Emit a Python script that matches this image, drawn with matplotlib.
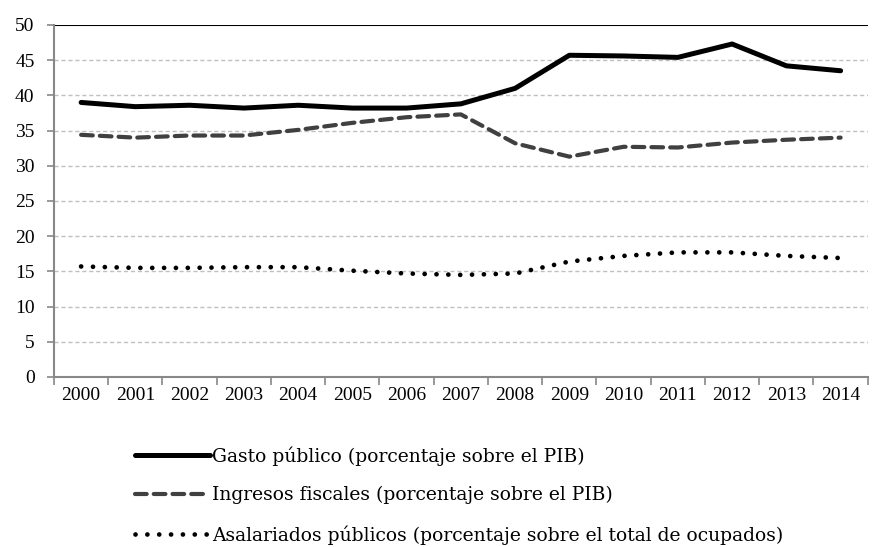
import matplotlib
matplotlib.use("Agg")
import matplotlib.pyplot as plt
from matplotlib.lines import Line2D

years = [str(y) for y in range(2000, 2015)]
gasto = [39.0, 38.4, 38.6, 38.2, 38.6, 38.2, 38.2, 38.8, 41.0, 45.7, 45.6, 45.4, 47.3, 44.2, 43.5]
ingresos = [34.4, 34.0, 34.3, 34.3, 35.1, 36.1, 36.9, 37.3, 33.2, 31.3, 32.7, 32.6, 33.3, 33.7, 34.0]
asalariados = [15.7, 15.5, 15.5, 15.6, 15.6, 15.1, 14.7, 14.5, 14.7, 16.4, 17.2, 17.7, 17.7, 17.2, 16.9]
labels = ["Gasto público (porcentaje sobre el PIB)",
          "Ingresos fiscales (porcentaje sobre el PIB)",
          "Asalariados públicos (porcentaje sobre el total de ocupados)"]

plt.rcParams['font.family'] = ['Liberation Serif', 'DejaVu Serif']

fig = plt.figure(figsize=(8.75, 5.47), dpi=100)
ax = fig.add_axes([0.0617, 0.3108, 0.930, 0.6435])

# estilos de linea
solid = dict(color='black', lw=3.6, solid_capstyle='round', solid_joinstyle='round')
dashed = dict(color='#404040', lw=3.0, linestyle=(0, (2.8, 1.7)), dash_capstyle='round')
dotted = dict(color='black', lw=3.4, linestyle=(0, (0.01, 2.5)), dash_capstyle='round')

x = list(range(len(years)))
ax.plot(x, gasto, **solid)
ax.plot(x, ingresos, **dashed)
ax.plot(x, asalariados, **dotted)

ax.set_ylim(0, 50)
ax.set_xlim(-0.5, 14.3)
ax.set_yticks(range(0, 51, 5))
for v in range(5, 50, 5):
    ax.axhline(v, color='#c0c0c0', lw=1.0, linestyle=(0, (3, 2)), zorder=0)
ax.axhline(50, color='black', lw=1.5, zorder=1)

ax.set_xticks(x)
ax.set_xticklabels(years)
ax.set_xticks([i - 0.5 for i in range(len(years) + 1)], minor=True)
ax.tick_params(axis='x', which='major', length=0, labelsize=14, pad=7)
ax.tick_params(axis='x', which='minor', length=6, color='#888888', width=1.2)
ax.tick_params(axis='y', length=5, color='#888888', width=1.2, labelsize=14, pad=9)

for s in ['top', 'right']:
    ax.spines[s].set_visible(False)
for s in ['left', 'bottom']:
    ax.spines[s].set_color('#888888')
    ax.spines[s].set_linewidth(1.5)

handles = [Line2D([], [], **solid), Line2D([], [], **dashed), Line2D([], [], **dotted)]
fig.legend(handles, labels, loc='upper left', bbox_to_anchor=(0.154, 0.1845),
           frameon=False, prop={'family': 'DejaVu Serif', 'size': 13.5},
           handlelength=4.0, handletextpad=0.1, labelspacing=1.1, borderpad=0,
           borderaxespad=0)

fig.savefig('out.png', dpi=100)
